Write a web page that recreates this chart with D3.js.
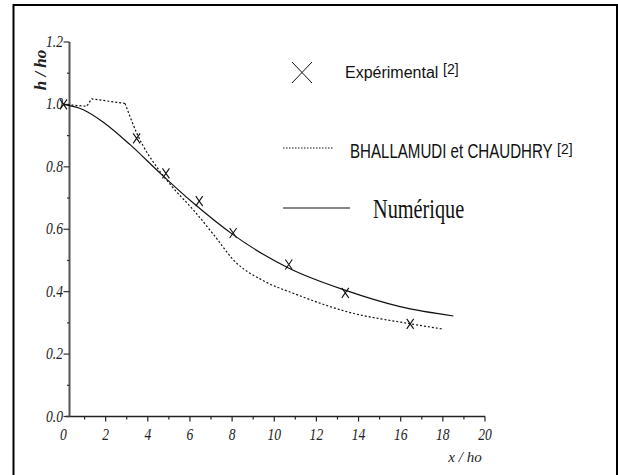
<!DOCTYPE html>
<html><head><meta charset="utf-8">
<script src="https://cdn.jsdelivr.net/npm/d3@7"></script>
<style>html,body{margin:0;padding:0;background:#fff;overflow:hidden}</style>
</head><body>
<script>
// ---- data ----
const xTickValues = [0, 2, 4, 6, 8, 10, 12, 14, 16, 18, 20];
const xMinorTicks = [1, 3, 5, 7, 9, 11, 13, 15, 17, 19];
const yTickValues = [0.0, 0.2, 0.4, 0.6, 0.8, 1.0, 1.2];
const yTickLabels = ["0.0", "0.2", "0.4", "0.6", "0.8", "1.0", "1.2"];
const yMinorTicks = [0.1, 0.3, 0.5, 0.7, 0.9, 1.1];

const expX = [0, 3.47, 4.86, 6.44, 8.05, 10.69, 13.37, 16.45];
const expY = [1.0, 0.891, 0.779, 0.690, 0.588, 0.487, 0.396, 0.297];

const numX = [0, 0.94, 1.89, 3.16, 4.58, 6.16, 8.06, 10.70, 13.39, 15.97, 18.50];
const numY = [1.0, 0.983, 0.943, 0.871, 0.780, 0.684, 0.582, 0.475, 0.404, 0.352, 0.322];

const bcX = [0, 1.10, 1.34, 2.92, 3.47, 4.58, 5.21, 6.16, 7.19, 8.06, 9.57, 10.90, 13.44, 16.47, 18.02];
const bcY = [1.0, 0.994, 1.018, 1.003, 0.909, 0.785, 0.732, 0.662, 0.577, 0.502, 0.432, 0.395, 0.336, 0.297, 0.280];

const legendLabels = ["Expérimental", "BHALLAMUDI  et CHAUDHRY", "Numérique"];
const refLabel = "[2]";

// ---- layout ----
const W = 618, H = 475;
const svg = d3.select("body").append("svg").attr("width", W).attr("height", H);

const x = d3.scaleLinear().domain([0, 20]).range([63.5, 485]);
const y = d3.scaleLinear().domain([0, 1.2]).range([416.5, 42]);
const yAxisX = 69.5;

// border
svg.append("rect").attr("x", 13.5).attr("y", 5).attr("width", 603.5).attr("height", 500)
  .attr("fill", "none").attr("stroke", "#000").attr("stroke-width", 2);

const serif = "'Liberation Serif','Times New Roman',serif";
const sans = "'Liberation Sans',Arial,sans-serif";

// x axis
svg.append("line").attr("x1", 66).attr("x2", x(20)).attr("y1", y(0)).attr("y2", y(0))
  .attr("stroke", "#222").attr("stroke-width", 1.5);
svg.selectAll(".xt").data(xTickValues.filter(d => d > 0)).enter().append("line")
  .attr("x1", d => x(d)).attr("x2", d => x(d)).attr("y1", y(0)).attr("y2", y(0) + 5)
  .attr("stroke", "#222").attr("stroke-width", 1.2);
svg.selectAll(".xm").data(xMinorTicks).enter().append("line")
  .attr("x1", d => x(d)).attr("x2", d => x(d)).attr("y1", y(0)).attr("y2", y(0) + 3)
  .attr("stroke", "#222").attr("stroke-width", 1.2);
svg.selectAll(".xl").data(xTickValues).enter().append("text")
  .attr("transform", d => `translate(${x(d)},440) scale(0.85,1)`).attr("text-anchor", "middle")
  .attr("font-family", serif).attr("font-style", "italic").attr("font-size", 16)
  .attr("fill", "#222").text(d => d);

// y axis
svg.append("line").attr("x1", yAxisX).attr("x2", yAxisX).attr("y1", y(1.2)).attr("y2", y(0))
  .attr("stroke", "#555").attr("stroke-width", 2);
svg.selectAll(".yt").data(yTickValues).enter().append("line")
  .attr("x1", yAxisX - 6).attr("x2", yAxisX).attr("y1", d => y(d)).attr("y2", d => y(d))
  .attr("stroke", "#333").attr("stroke-width", 1.2);
svg.selectAll(".ym").data(yMinorTicks).enter().append("line")
  .attr("x1", yAxisX - 2.5).attr("x2", yAxisX).attr("y1", d => y(d)).attr("y2", d => y(d))
  .attr("stroke", "#333").attr("stroke-width", 1.2);
svg.selectAll(".yl").data(yTickValues).enter().append("text")
  .attr("transform", d => `translate(63,${y(d) + 5}) scale(0.85,1)`).attr("text-anchor", "end")
  .attr("font-family", serif).attr("font-style", "italic").attr("font-size", 16)
  .attr("fill", "#222").text((d, i) => yTickLabels[i]);

// axis titles
svg.append("text").attr("transform", "translate(46,70) rotate(-90)")
  .attr("text-anchor", "middle").attr("font-family", serif).attr("font-style", "italic")
  .attr("font-weight", "bold").attr("font-size", 17).attr("fill", "#222").text("h / ho");
svg.append("text").attr("x", 465).attr("y", 462).attr("text-anchor", "middle")
  .attr("font-family", serif).attr("font-style", "italic").attr("font-size", 15)
  .attr("fill", "#222").text("x / ho");

// lines
const numData = numX.map((v, i) => [v, numY[i]]);
const bcData = bcX.map((v, i) => [v, bcY[i]]);
const dotted = (sel) => sel.attr("fill", "none").attr("stroke", "#111").attr("stroke-width", 1.2).attr("stroke-dasharray", "2,2");
svg.append("path").datum(bcData.slice(0, 4))
  .attr("d", d3.line().x(d => x(d[0])).y(d => y(d[1]))).call(dotted);
svg.append("path").datum(bcData.slice(3))
  .attr("d", d3.line().curve(d3.curveMonotoneX).x(d => x(d[0])).y(d => y(d[1]))).call(dotted);
svg.append("path").datum(numData)
  .attr("d", d3.line().curve(d3.curveMonotoneX).x(d => x(d[0])).y(d => y(d[1])))
  .attr("fill", "none").attr("stroke", "#111").attr("stroke-width", 1.2);

// experimental markers
const expData = expX.map((v, i) => [v, expY[i]]);
const mw = 3.5, mh = 5;
svg.selectAll(".mk").data(expData).enter().append("path")
  .attr("d", d => {
    const cx = x(d[0]), cy = y(d[1]);
    return `M${cx - mw},${cy - mh}L${cx + mw},${cy + mh}M${cx + mw},${cy - mh}L${cx - mw},${cy + mh}`;
  })
  .attr("stroke", "#111").attr("stroke-width", 1.1).attr("fill", "none");

// legend
const lg = svg.append("g");
lg.append("path").attr("d", "M292,62L312,83M312,62L292,83").attr("stroke", "#111").attr("stroke-width", 1);
lg.append("text").attr("x", 345).attr("y", 78).attr("font-family", sans).attr("font-size", 16)
  .attr("fill", "#111").text(legendLabels[0]);
lg.append("text").attr("x", 443).attr("y", 74).attr("font-family", sans).attr("font-size", 14)
  .attr("fill", "#111").text(refLabel);

lg.append("line").attr("x1", 283).attr("x2", 334).attr("y1", 148).attr("y2", 148)
  .attr("stroke", "#111").attr("stroke-width", 1).attr("stroke-dasharray", "1.5,1.5");
lg.append("text").attr("transform", "translate(350,158) scale(1,1.28)").attr("font-family", sans).attr("font-size", 15.1)
  .attr("fill", "#111").text(legendLabels[1]);
lg.append("text").attr("x", 557).attr("y", 154).attr("font-family", sans).attr("font-size", 14)
  .attr("fill", "#111").text(refLabel);

lg.append("line").attr("x1", 283).attr("x2", 350).attr("y1", 208).attr("y2", 208)
  .attr("stroke", "#111").attr("stroke-width", 1.2);
lg.append("text").attr("transform", "translate(373,218) scale(1,1.3)").attr("font-family", serif).attr("font-size", 20.3)
  .attr("fill", "#111").text(legendLabels[2]);
</script>
</body></html>
